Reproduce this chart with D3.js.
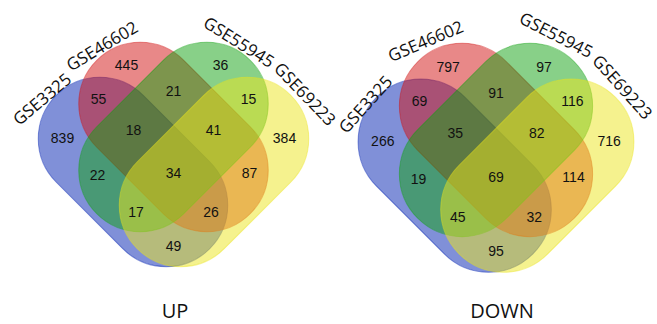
<!DOCTYPE html>
<html>
<head>
<meta charset="utf-8">
<script src="https://cdn.jsdelivr.net/npm/d3@7"></script>
<style>
  html, body { margin: 0; padding: 0; background: #fff; }
  svg { display: block; }
</style>
</head>
<body>
<svg id="chart" width="657" height="324"></svg>
<script>
// ---- data ----
const setNames = ["GSE3325", "GSE46602", "GSE55945", "GSE69223"];
const panelTitles = ["UP", "DOWN"];
// region keys: letters give membership (A = GSE3325, B = GSE46602, C = GSE55945, D = GSE69223)
const regionKeys = ["A", "B", "C", "D", "AB", "BC", "CD", "ABC", "BCD", "ABCD", "AC", "BD", "ACD", "ABD", "AD"];
const upCounts   = [839, 445, 36, 384, 55, 21, 15, 18, 41, 34, 22, 87, 17, 26, 49];
const downCounts = [266, 797, 97, 716, 69, 91, 116, 35, 82, 69, 19, 114, 45, 32, 95];

// ---- layout (design units relative to the diagram centre) ----
// each set is a capsule: straight sides of half-length `half`, round caps of radius `radius`
const capsules = [
  { set: 0, x: -40.5, y: 35, rot: 45,  color: "rgb(1,33,177)" },
  { set: 1, x: 0,     y: 0,  rot: 45,  color: "rgb(209,17,17)" },
  { set: 2, x: 0,     y: 0,  rot: -45, color: "rgb(17,161,17)" },
  { set: 3, x: 40.5,  y: 35, rot: -45, color: "rgb(235,229,29)" }
];
const half = 47, radius = 61.5;
const regionPos = {
  A: [-111, 1], B: [-47, -72], C: [47, -72], D: [111, 1],
  AB: [-75, -38], BC: [0, -46], CD: [75, -38],
  ABC: [-40, -7], BCD: [40, -7], ABCD: [0, 36],
  AC: [-76, 38], BD: [76, 36],
  ACD: [-37.5, 75], ABD: [37.5, 75], AD: [0, 109]
};
const panels = [
  { cx: 173.5, cy: 137, s: 1.0, counts: upCounts, title: panelTitles[0], titleX: 175,
    labels: [[-131.5, -38, -40], [-71.5, -91, -31], [65.5, -95, 32], [131.5, -43, 46]] },
  { cx: 496, cy: 140, s: 1.02, counts: downCounts, title: panelTitles[1], titleX: 502,
    labels: [[-128, -35, -48], [-69, -97, -23], [59, -103, 27], [124, -52, 48]] }
];

function capsulePath(h, r) {
  const p = d3.path();
  p.moveTo(-h, -r);
  p.lineTo(h, -r);
  p.arc(h, 0, r, -Math.PI / 2, Math.PI / 2);
  p.lineTo(-h, r);
  p.arc(-h, 0, r, Math.PI / 2, 3 * Math.PI / 2);
  p.closePath();
  return p.toString();
}

const svg = d3.select("#chart");

panels.forEach(p => {
  const x = d3.scaleLinear().domain([-100, 100]).range([p.cx - 100 * p.s, p.cx + 100 * p.s]);
  const y = d3.scaleLinear().domain([-100, 100]).range([p.cy - 100 * p.s, p.cy + 100 * p.s]);
  const g = svg.append("g");
  const shape = capsulePath(half * p.s, radius * p.s);

  g.selectAll("path.set").data(capsules).join("path")
    .attr("class", "set")
    .attr("d", shape)
    .attr("transform", d => `translate(${x(d.x)},${y(d.y)}) rotate(${d.rot})`)
    .attr("fill", d => d.color)
    .attr("fill-opacity", 0.5)
    .attr("stroke", d => d.color)
    .attr("stroke-opacity", 0.45)
    .attr("stroke-width", 1);

  g.selectAll("text.count").data(regionKeys.map((k, i) => ({ k, v: p.counts[i] }))).join("text")
    .attr("class", "count")
    .attr("x", d => x(regionPos[d.k][0]))
    .attr("y", d => y(regionPos[d.k][1]))
    .attr("dy", "0.36em")
    .attr("text-anchor", "middle")
    .attr("font-family", "'Liberation Sans', Arial, sans-serif")
    .attr("font-size", 14)
    .attr("fill", "#111")
    .text(d => d.v);

  g.selectAll("text.setlabel").data(setNames.map((n, i) => ({ n, l: p.labels[i] }))).join("text")
    .attr("class", "setlabel")
    .attr("transform", d => `translate(${x(d.l[0])},${y(d.l[1])}) rotate(${d.l[2]})`)
    .attr("dy", "0.36em")
    .attr("text-anchor", "middle")
    .attr("font-family", "'Open Sans', sans-serif")
    .attr("font-size", 17)
    .attr("fill", "#111")
    .text(d => d.n);

  g.append("text")
    .attr("x", p.titleX).attr("y", 318)
    .attr("text-anchor", "middle")
    .attr("font-family", "'Open Sans', sans-serif")
    .attr("font-size", 20)
    .attr("fill", "#111")
    .text(p.title);
});
</script>
</body>
</html>
